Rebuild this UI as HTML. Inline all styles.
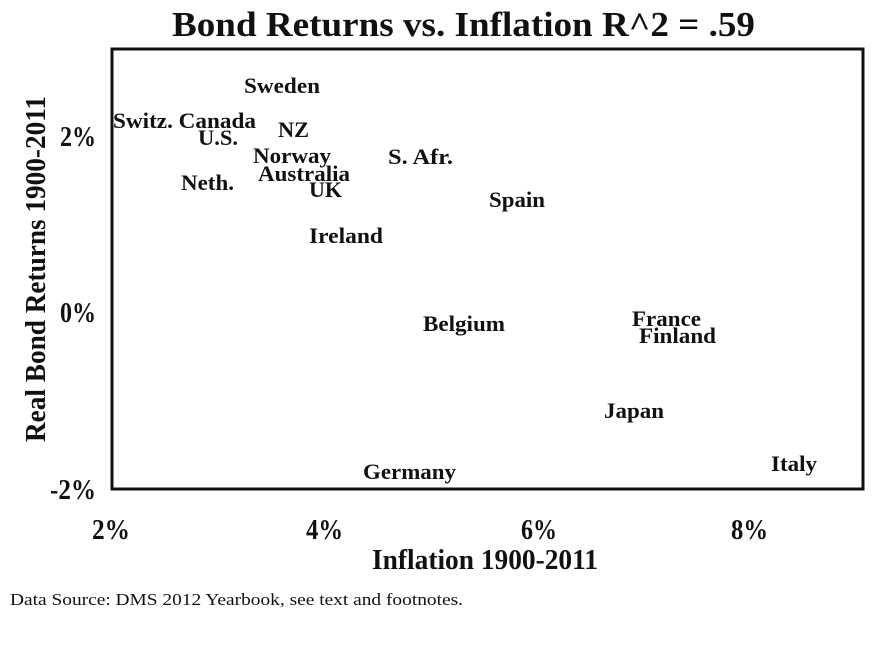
<!DOCTYPE html>
<html><head><meta charset="utf-8"><style>
html,body{margin:0;padding:0;background:#fff;}
svg{display:block;}
text{font-family:"Liberation Serif",serif;font-weight:bold;fill:#111;}
</style></head><body>
<svg width="886" height="645" viewBox="0 0 886 645">
<text x="172" y="36" font-size="35" textLength="583" lengthAdjust="spacingAndGlyphs">Bond Returns vs. Inflation R^2 = .59</text>
<rect x="112" y="49" width="751" height="440" fill="none" stroke="#111" stroke-width="3"/>
<g font-size="22">
<text x="244" y="93" textLength="76" lengthAdjust="spacingAndGlyphs">Sweden</text>
<text x="113" y="128" textLength="143" lengthAdjust="spacingAndGlyphs">Switz. Canada</text>
<text x="198" y="145" textLength="40" lengthAdjust="spacingAndGlyphs">U.S.</text>
<text x="278" y="137" textLength="31" lengthAdjust="spacingAndGlyphs">NZ</text>
<text x="388" y="164" textLength="65" lengthAdjust="spacingAndGlyphs">S. Afr.</text>
<text x="253" y="163" textLength="78" lengthAdjust="spacingAndGlyphs">Norway</text>
<text x="258" y="181" textLength="92" lengthAdjust="spacingAndGlyphs">Australia</text>
<text x="181" y="190" textLength="53" lengthAdjust="spacingAndGlyphs">Neth.</text>
<text x="309" y="197" textLength="33" lengthAdjust="spacingAndGlyphs">UK</text>
<text x="489" y="207" textLength="56" lengthAdjust="spacingAndGlyphs">Spain</text>
<text x="309" y="243" textLength="74" lengthAdjust="spacingAndGlyphs">Ireland</text>
<text x="423" y="331" textLength="82" lengthAdjust="spacingAndGlyphs">Belgium</text>
<text x="632" y="326" textLength="69" lengthAdjust="spacingAndGlyphs">France</text>
<text x="639" y="343" textLength="77" lengthAdjust="spacingAndGlyphs">Finland</text>
<text x="604" y="418" textLength="60" lengthAdjust="spacingAndGlyphs">Japan</text>
<text x="363" y="479" textLength="93" lengthAdjust="spacingAndGlyphs">Germany</text>
<text x="771" y="471" textLength="46" lengthAdjust="spacingAndGlyphs">Italy</text>
</g>
<g font-size="28">
<text x="60" y="146" textLength="36" lengthAdjust="spacingAndGlyphs">2%</text>
<text x="60" y="322" textLength="36" lengthAdjust="spacingAndGlyphs">0%</text>
<text x="50" y="499" textLength="46" lengthAdjust="spacingAndGlyphs">-2%</text>
<text x="92" y="539" textLength="38" lengthAdjust="spacingAndGlyphs">2%</text>
<text x="306" y="539" textLength="37" lengthAdjust="spacingAndGlyphs">4%</text>
<text x="521" y="539" textLength="36" lengthAdjust="spacingAndGlyphs">6%</text>
<text x="731" y="539" textLength="37" lengthAdjust="spacingAndGlyphs">8%</text>
</g>
<g font-size="28">
<text x="372" y="569" textLength="226" lengthAdjust="spacingAndGlyphs">Inflation 1900-2011</text>
<text transform="translate(45,442) rotate(-90)" x="0" y="0" textLength="346" lengthAdjust="spacingAndGlyphs">Real Bond Returns 1900-2011</text>
</g>
<text x="10" y="605" font-size="17" style="font-weight:normal" textLength="453" lengthAdjust="spacingAndGlyphs">Data Source: DMS 2012 Yearbook, see text and footnotes.</text>
</svg>
</body></html>
